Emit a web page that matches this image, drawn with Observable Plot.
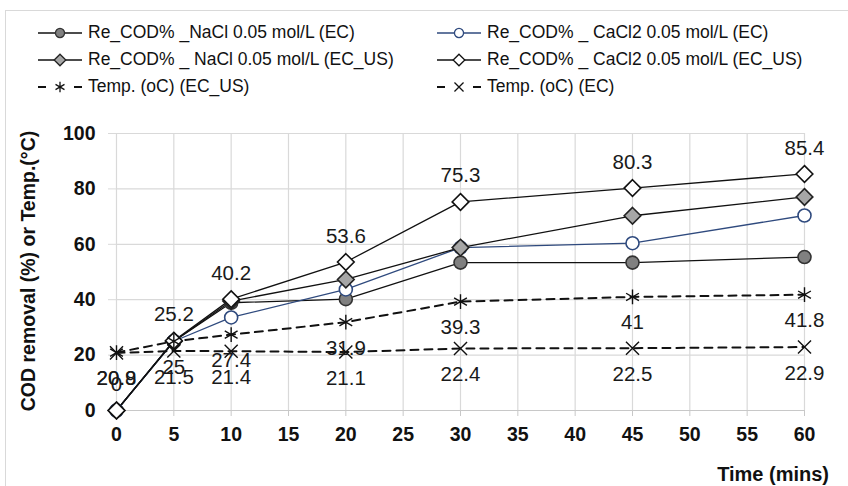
<!DOCTYPE html>
<html>
<head>
<meta charset="utf-8">
<script src="https://cdn.jsdelivr.net/npm/d3@7"></script>
<script src="https://cdn.jsdelivr.net/npm/@observablehq/plot@0.6"></script>
<style>
  html, body { margin: 0; padding: 0; background: #fff; }
  #wrap { position: relative; width: 848px; height: 486px; overflow: hidden; font-family: "Liberation Sans", Arial, sans-serif; }
  #frame { position: absolute; left: 5px; top: 10px; width: 900px; height: 600px; border: 1px solid #d9d9d9; box-sizing: border-box; }
  #legend { position: absolute; left: 0; top: 0; }
  #chart { position: absolute; left: 0; top: 0; }
</style>
</head>
<body>
<div id="wrap">
  <div id="frame"></div>
  <div id="chart"></div>
  <div id="legend"></div>
</div>
<script>
// ---- data ----
const times = [0, 5, 10, 20, 30, 45, 60];
const naclEC = [0, 25, 38.9, 40.2, 53.4, 53.4, 55.4];
const cacl2EC = [0, 25, 33.6, 43.7, 58.8, 60.4, 70.4];
const naclECUS = [0, 25, 39.5, 47.3, 58.8, 70.3, 77.1];
const cacl2ECUS = [0, 25.2, 40.2, 53.6, 75.3, 80.3, 85.4];
const tempECUS = [20.9, 25, 27.4, 31.9, 39.3, 41, 41.8];
const tempEC = [20.8, 21.5, 21.4, 21.1, 22.4, 22.5, 22.9];
const xTicks = [0, 5, 10, 15, 20, 25, 30, 35, 40, 45, 50, 55, 60];
const yTicks = [0, 20, 40, 60, 80, 100];
const seriesNames = [
  "Re_COD% _NaCl 0.05 mol/L (EC)",
  "Re_COD% _ CaCl2 0.05 mol/L (EC)",
  "Re_COD% _ NaCl 0.05 mol/L (EC_US)",
  "Re_COD% _ CaCl2 0.05 mol/L (EC_US)",
  "Temp. (oC) (EC_US)",
  "Temp. (oC) (EC)"
];
const xTitle = "Time (mins)";
const yTitle = "COD removal (%) or Temp.(°C)";

const toRows = (vals) => times.map((t, i) => ({t, v: vals[i]}));
const dNaclEC = toRows(naclEC);
const dCacl2EC = toRows(cacl2EC);
const dNaclECUS = toRows(naclECUS);
const dCacl2ECUS = toRows(cacl2ECUS);
const dTempECUS = toRows(tempECUS);
const dTempEC = toRows(tempEC);

const FONT = '"Liberation Sans", Arial, sans-serif';
const BLUE = "#2f4a7e";

const styles = [
  {symbol: "circle", fill: "#808080", stroke: "#333", line: "#111", dash: null, r: 6.5},
  {symbol: "circle", fill: "#fff", stroke: BLUE, line: BLUE, dash: null, r: 6.5},
  {symbol: "diamond2", fill: "#a6a6a6", stroke: "#222", line: "#111", dash: null, r: 7.5},
  {symbol: "diamond2", fill: "#fff", stroke: "#111", line: "#111", dash: null, r: 7.5},
  {symbol: "asterisk", fill: "none", stroke: "#111", line: "#111", dash: "8,6", r: 7},
  {symbol: "times", fill: "none", stroke: "#111", line: "#111", dash: "8,6", r: 6}
];
const datasets = [dNaclEC, dCacl2EC, dNaclECUS, dCacl2ECUS, dTempECUS, dTempEC];

const marks = [
  Plot.gridX(xTicks, {stroke: "#d9d9d9", strokeOpacity: 1, strokeWidth: 1.2}),
  Plot.gridY(yTicks, {stroke: "#d9d9d9", strokeOpacity: 1, strokeWidth: 1.2}),
  Plot.ruleY([0], {stroke: "#c8c8c8", strokeWidth: 1.2}),
  Plot.axisX({ticks: xTicks, tickSize: 6, tickPadding: 11, stroke: "#c8c8c8", fontSize: 19.5, fontWeight: "bold", fill: "#111", label: null}),
  Plot.axisY({ticks: yTicks, tickSize: 8, tickPadding: 13, stroke: "#d9d9d9", fontSize: 19.5, fontWeight: "bold", fill: "#111", label: null})
];
datasets.forEach((d, i) => {
  const s = styles[i];
  marks.push(Plot.line(d, {x: "t", y: "v", stroke: s.line, strokeWidth: s.dash ? 2 : 1.3, strokeDasharray: s.dash}));
});
datasets.forEach((d, i) => {
  const s = styles[i];
  marks.push(Plot.dot(d, {x: "t", y: "v", symbol: () => s.symbol, r: s.r, fill: s.fill, stroke: s.stroke, strokeWidth: i >= 4 ? 1.4 : 1.6}));
});
// data labels
marks.push(Plot.text(dCacl2ECUS, {x: "t", y: "v", text: d => String(d.v), dy: -26, fontSize: 20.5, fill: "#1a1a1a"}));
marks.push(Plot.text(dTempECUS, {x: "t", y: "v", text: d => String(d.v), dy: 26, fontSize: 20.5, fill: "#1a1a1a"}));
marks.push(Plot.text(dTempEC, {x: "t", y: "v", text: d => String(d.v), dy: 26, fontSize: 20.5, fill: "#1a1a1a"}));

const chart = Plot.plot({
  width: 848,
  height: 486,
  marginLeft: 116,
  marginRight: 44,
  marginTop: 133,
  marginBottom: 76,
  x: {domain: [0, 60], type: "linear"},
  y: {domain: [0, 100]},
  style: {fontFamily: FONT, background: "transparent", overflow: "visible"},
  marks
});
document.getElementById("chart").appendChild(chart);

// axis titles
const svgSel = d3.select(chart);
svgSel.append("text")
  .attr("transform", "translate(30,271) rotate(-90)")
  .attr("text-anchor", "middle").attr("dominant-baseline", "middle")
  .style("font-family", FONT).style("font-size", "19.5px").style("font-weight", "bold").attr("fill", "#111")
  .text(yTitle);
svgSel.append("text")
  .attr("x", 829).attr("y", 476)
  .attr("text-anchor", "end").attr("dominant-baseline", "middle")
  .style("font-family", FONT).style("font-size", "20px").style("font-weight", "bold").attr("fill", "#111")
  .text(xTitle);

// legend
const leg = d3.select("#legend").append("svg").attr("width", 848).attr("height", 110)
  .style("font-family", FONT);
const symMap = {circle: d3.symbolCircle, diamond2: d3.symbolDiamond2, asterisk: d3.symbolAsterisk, times: d3.symbolTimes};
const cols = [38, 437];
const rows = [33, 60, 87];
seriesNames.forEach((name, i) => {
  const s = styles[i];
  const x0 = cols[i % 2], y0 = rows[Math.floor(i / 2)];
  const g = leg.append("g").attr("transform", `translate(${x0},${y0})`);
  if (s.dash) {
    g.append("line").attr("x1", 0).attr("x2", 8).attr("y1", 0).attr("y2", 0).attr("stroke", s.line).attr("stroke-width", 2);
    g.append("line").attr("x1", 36).attr("x2", 44).attr("y1", 0).attr("y2", 0).attr("stroke", s.line).attr("stroke-width", 2);
  } else {
    g.append("line").attr("x1", 0).attr("x2", 44).attr("y1", 0).attr("y2", 0).attr("stroke", s.line).attr("stroke-width", 1.3);
  }
  const rr = s.r * 0.7;
  g.append("path").attr("transform", "translate(22,0)")
    .attr("d", d3.symbol(symMap[s.symbol], Math.PI * rr * rr)())
    .attr("fill", s.fill).attr("stroke", s.stroke).attr("stroke-width", 1.3);
  g.append("text").attr("x", 50).attr("y", 0).attr("dominant-baseline", "middle")
    .style("font-size", "17.5px").attr("fill", "#111").text(name);
});
</script>
</body>
</html>
